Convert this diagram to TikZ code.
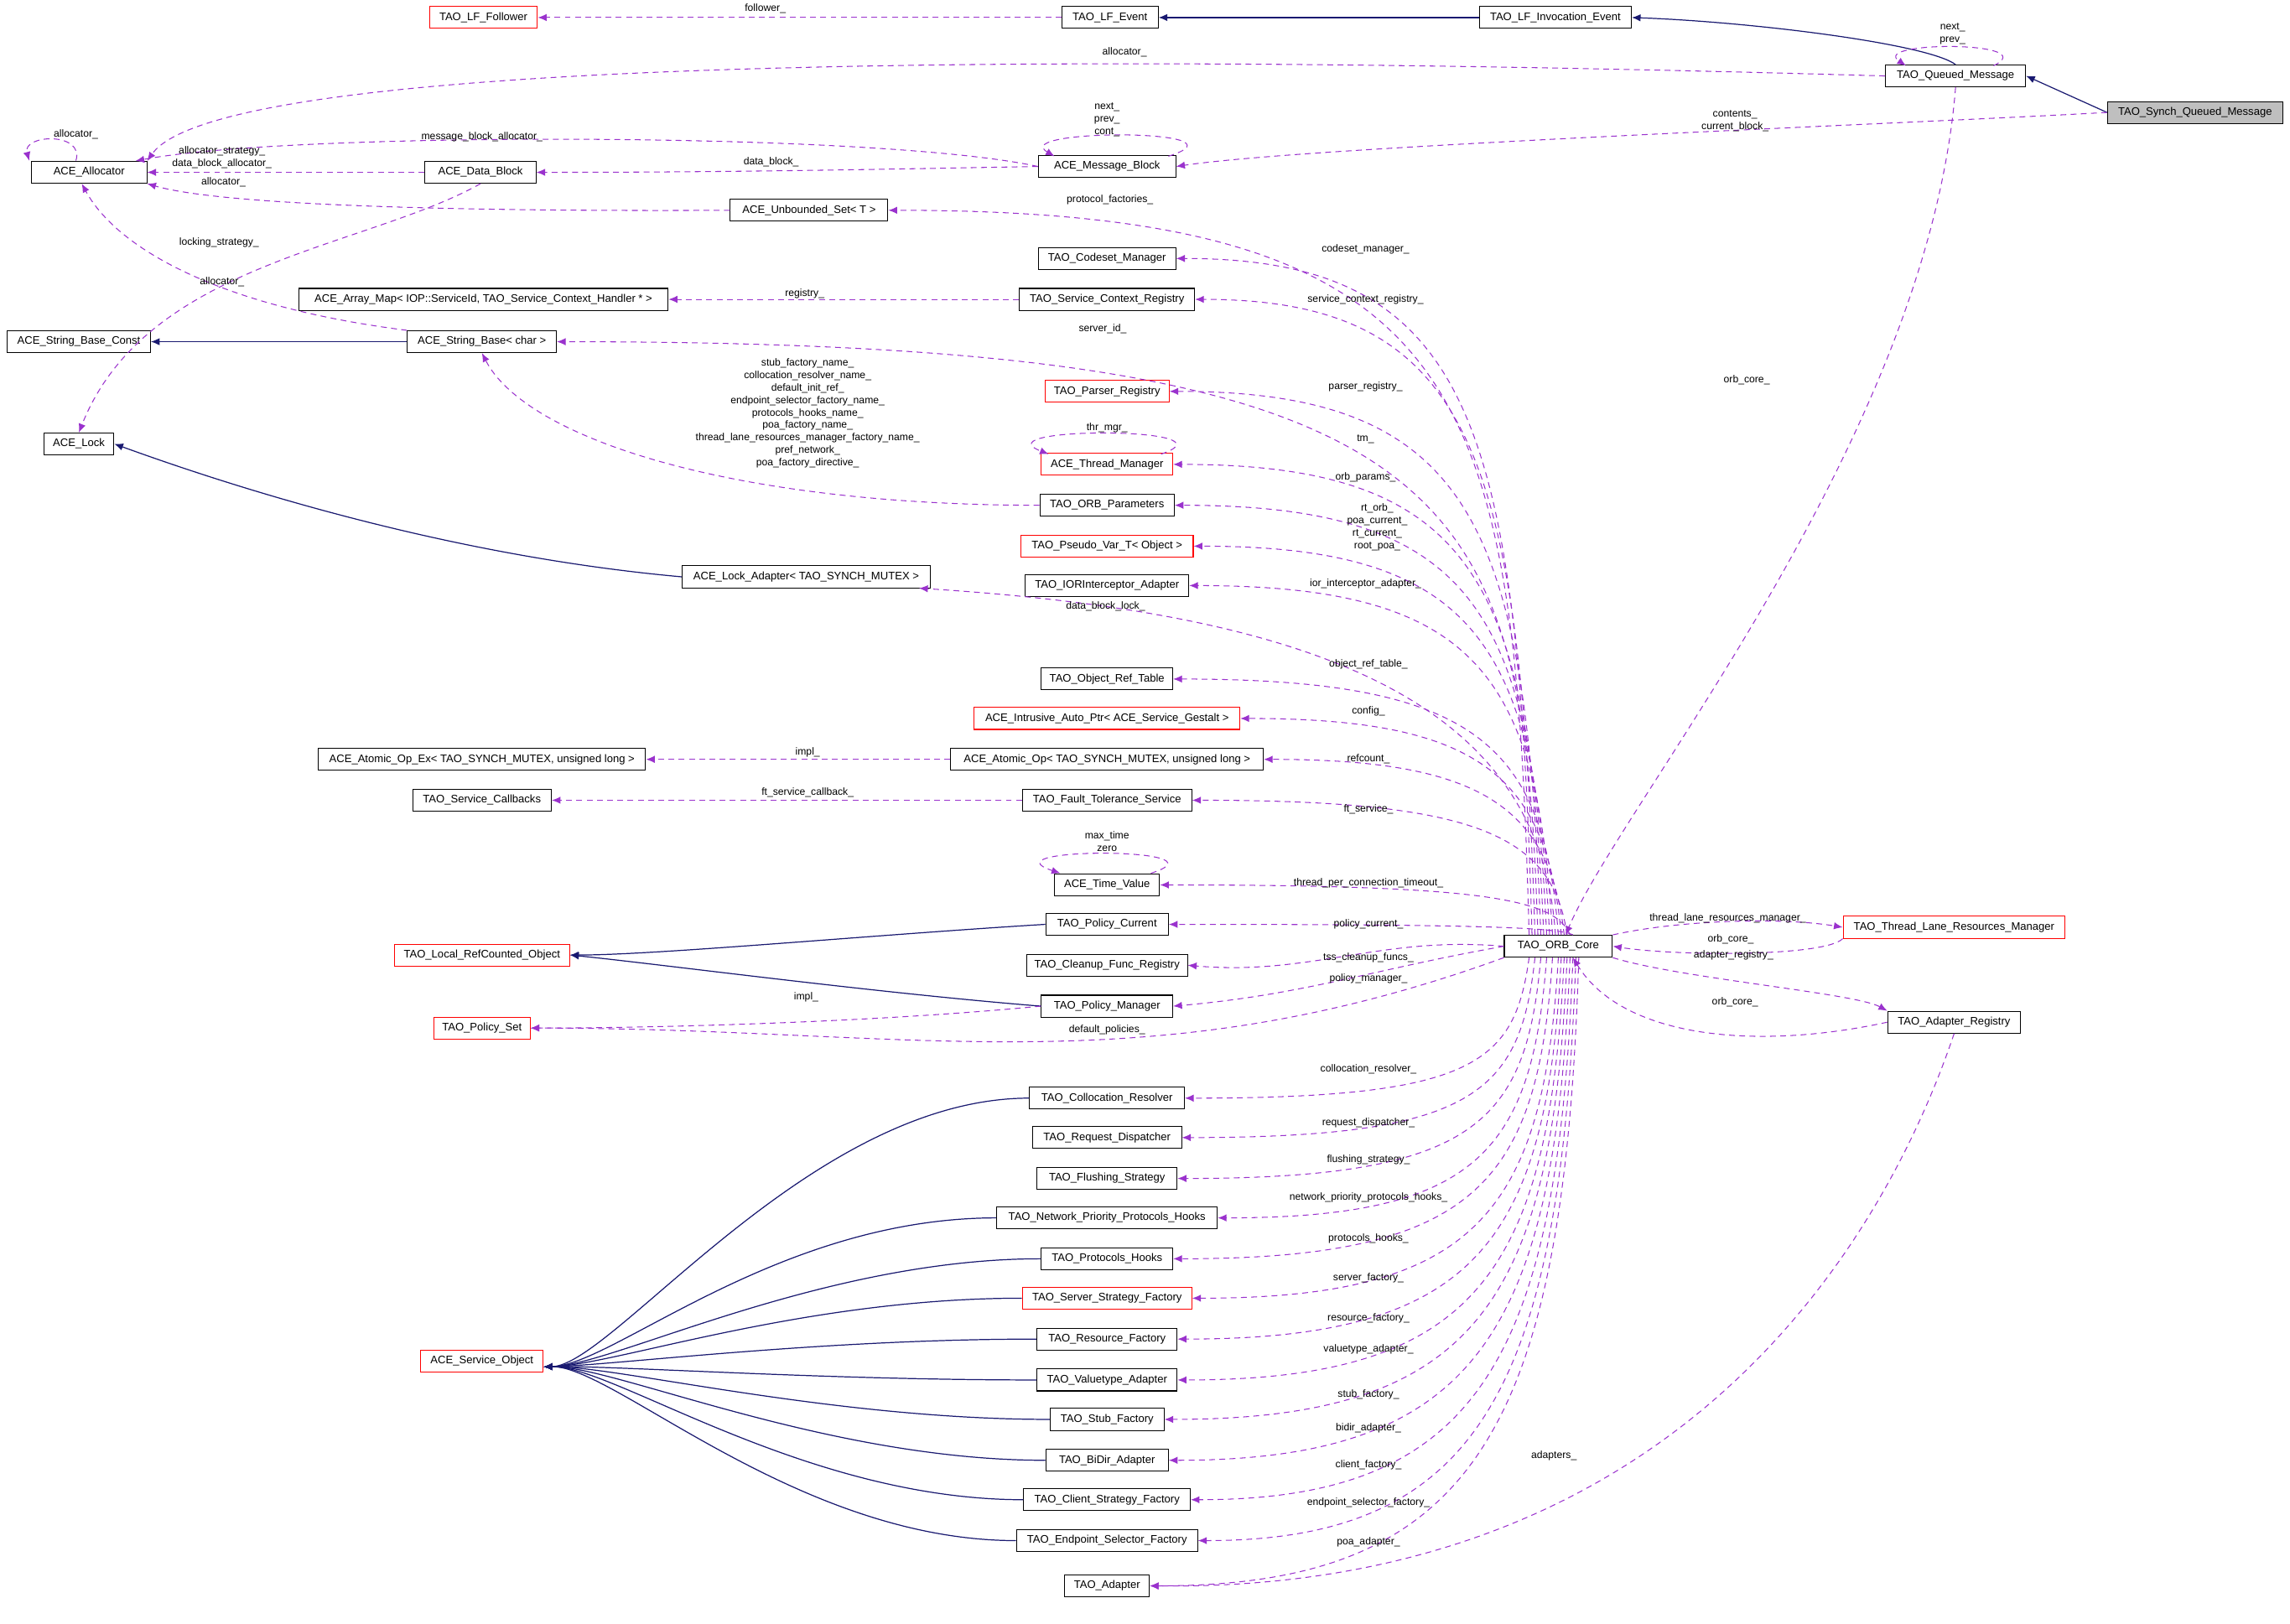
\documentclass[tikz,border=0pt]{standalone}
\usepackage{fontspec}
\setmainfont{Liberation Sans}
\usetikzlibrary{arrows.meta,calc}
\definecolor{memc}{HTML}{9A32CD}
\definecolor{inhc}{HTML}{191970}
\begin{document}
\begin{tikzpicture}[x=1pt,y=1pt,
  box/.style={draw=black,line width=0.6pt,minimum height=15pt,inner sep=0pt,font=\fontsize{7.5}{8}\selectfont,fill=white},
  boxr/.style={box,draw=red},
  mem/.style={draw=memc,dashed,dash pattern=on 4pt off 3pt,line width=0.6pt,-{Latex[length=6pt,width=5pt]}},
  inh/.style={draw=inhc,line width=0.7pt,-{Latex[length=6pt,width=5pt]}},
  lab/.style={font=\fontsize{7}{8.5}\selectfont,align=center,inner sep=0pt}]
\useasboundingbox (0,0) rectangle (1568,-1111.6);
% nodes
\node[boxr,minimum width=74] (lff) at (331,-12) {TAO\_LF\_Follower};
\node[box,minimum width=66] (lfe) at (760,-12) {TAO\_LF\_Event};
\node[box,minimum width=104] (lfi) at (1065,-12) {TAO\_LF\_Invocation\_Event};
\node[box,minimum width=96] (qm) at (1339,-52) {TAO\_Queued\_Message};
\node[box,minimum width=120,fill=black!25] (sqm) at (1503,-77) {TAO\_Synch\_Queued\_Message};
\node[box,minimum width=79] (alloc) at (61,-118) {ACE\_Allocator};
\node[box,minimum width=76] (db) at (329,-118) {ACE\_Data\_Block};
\node[box,minimum width=94] (mb) at (758,-114) {ACE\_Message\_Block};
\node[box,minimum width=108] (us) at (554,-144) {ACE\_Unbounded\_Set< T >};
\node[box,minimum width=94] (csm) at (758,-177) {TAO\_Codeset\_Manager};
\node[box,minimum width=253] (am) at (331,-205) {ACE\_Array\_Map< IOP::ServiceId, TAO\_Service\_Context\_Handler * >};
\node[box,minimum width=120] (scr) at (758,-205) {TAO\_Service\_Context\_Registry};
\node[box,minimum width=98] (sbc) at (54,-234) {ACE\_String\_Base\_Const};
\node[box,minimum width=102] (sb) at (330,-234) {ACE\_String\_Base< char >};
\node[boxr,minimum width=85] (pr) at (758,-268) {TAO\_Parser\_Registry};
\node[box,minimum width=48] (lock) at (54,-304) {ACE\_Lock};
\node[boxr,minimum width=90] (tmg) at (758,-318) {ACE\_Thread\_Manager};
\node[box,minimum width=92] (op) at (758,-346) {TAO\_ORB\_Parameters};
\node[boxr,minimum width=118] (pv) at (758,-374) {TAO\_Pseudo\_Var\_T< Object >};
\node[box,minimum width=112] (ior) at (758,-401) {TAO\_IORInterceptor\_Adapter};
\node[box,minimum width=170] (la) at (552,-395) {ACE\_Lock\_Adapter< TAO\_SYNCH\_MUTEX >};
\node[box,minimum width=90] (ort) at (758,-465) {TAO\_Object\_Ref\_Table};
\node[boxr,minimum width=182] (iap) at (758,-492) {ACE\_Intrusive\_Auto\_Ptr< ACE\_Service\_Gestalt >};
\node[box,minimum width=224] (aoe) at (330,-520) {ACE\_Atomic\_Op\_Ex< TAO\_SYNCH\_MUTEX, unsigned long >};
\node[box,minimum width=214] (ao) at (758,-520) {ACE\_Atomic\_Op< TAO\_SYNCH\_MUTEX, unsigned long >};
\node[box,minimum width=95] (scb) at (330,-548) {TAO\_Service\_Callbacks};
\node[box,minimum width=116] (fts) at (758,-548) {TAO\_Fault\_Tolerance\_Service};
\node[box,minimum width=72] (tv) at (758,-606) {ACE\_Time\_Value};
\node[box,minimum width=84] (pc) at (758,-633) {TAO\_Policy\_Current};
\node[box,minimum width=74] (core) at (1067,-648) {TAO\_ORB\_Core};
\node[boxr,minimum width=152] (tlr) at (1338,-635) {TAO\_Thread\_Lane\_Resources\_Manager};
\node[boxr,minimum width=120] (lrc) at (330,-654) {TAO\_Local\_RefCounted\_Object};
\node[box,minimum width=110] (cfr) at (758,-661) {TAO\_Cleanup\_Func\_Registry};
\node[box,minimum width=90] (pm) at (758,-689) {TAO\_Policy\_Manager};
\node[box,minimum width=91] (ar) at (1338,-700) {TAO\_Adapter\_Registry};
\node[boxr,minimum width=66] (ps) at (330,-704) {TAO\_Policy\_Set};
\node[box,minimum width=106] (cr) at (758,-752) {TAO\_Collocation\_Resolver};
\node[box,minimum width=102] (rd) at (758,-779) {TAO\_Request\_Dispatcher};
\node[box,minimum width=96] (fs) at (758,-807) {TAO\_Flushing\_Strategy};
\node[box,minimum width=151] (npp) at (758,-834) {TAO\_Network\_Priority\_Protocols\_Hooks};
\node[box,minimum width=90] (ph) at (758,-862) {TAO\_Protocols\_Hooks};
\node[boxr,minimum width=116] (ssf) at (758,-889) {TAO\_Server\_Strategy\_Factory};
\node[boxr,minimum width=84] (so) at (330,-932) {ACE\_Service\_Object};
\node[box,minimum width=96] (rf) at (758,-917) {TAO\_Resource\_Factory};
\node[box,minimum width=96] (va) at (758,-945) {TAO\_Valuetype\_Adapter};
\node[box,minimum width=78] (sf) at (758,-972) {TAO\_Stub\_Factory};
\node[box,minimum width=84] (bda) at (758,-1000) {TAO\_BiDir\_Adapter};
\node[box,minimum width=114] (csf) at (758,-1027) {TAO\_Client\_Strategy\_Factory};
\node[box,minimum width=124] (esf) at (758,-1055) {TAO\_Endpoint\_Selector\_Factory};
\node[box,minimum width=58] (ad) at (758,-1086) {TAO\_Adapter};
% inheritance
\draw[inh] (lfi.west) -- (lfe.east);
\draw[inh] (qm.north) .. controls (1320,-30) and (1200,-15) .. (lfi.east);
\draw[inh] (sqm.west) -- (qm.east);
\draw[inh] (sb.west) -- (sbc.east);
\draw[inh] (la.west) .. controls (300,-380) and (150,-330) .. (lock.east);
\draw[inh] (pc.west) .. controls (600,-640) and (450,-654) .. (lrc.east);
\draw[inh] (pm.west) .. controls (600,-680) and (450,-660) .. (lrc.east);
\foreach \n in {cr,npp,ph,ssf,rf,va,sf,bda,csf,esf}
  \draw[inh] (\n.west) .. controls ($(\n.west)+(-150,0)$) and (420,-935) .. ([yshift=-4pt]so.east);
% self loops
\draw[mem] (52,-110) .. controls (58,-90) and (15,-92) .. (20,-110);
\draw[mem] (800,-107) .. controls (860,-88) and (690,-88) .. (722,-107);
\draw[mem] (1365,-45) .. controls (1400,-28) and (1280,-28) .. (1305,-45);
\draw[mem] (795,-311) .. controls (850,-292) and (670,-292) .. (718,-311);
\draw[mem] (788,-598) .. controls (845,-580) and (672,-580) .. (726,-598);
% other members
\draw[mem] (lfe.west) -- (lff.east);
\draw[mem] (qm.west) .. controls (700,-35) and (150,-40) .. (alloc.north east);
\draw[mem] (sqm.west) .. controls (1300,-85) and (900,-100) .. (mb.east);
\draw[mem] (mb.west) .. controls (600,-90) and (200,-90) .. ([xshift=-8pt]alloc.north east);
\draw[mem] (db.west) -- (alloc.east);
\draw[mem] (mb.west) .. controls (600,-116) and (500,-118) .. (db.east);
\draw[mem] (us.west) .. controls (300,-145) and (150,-140) .. (alloc.south east);
\draw[mem] (db.south) .. controls (250,-170) and (100,-180) .. (lock.north);
\draw[mem] (sb.north west) .. controls (150,-210) and (80,-170) .. ([xshift=-5pt]alloc.south);
\draw[mem] (scr.west) -- (am.east);
\draw[mem] (op.west) .. controls (500,-346) and (360,-300) .. (sb.south);
\draw[mem] (ao.west) -- (aoe.east);
\draw[mem] (fts.west) -- (scb.east);
\draw[mem] (pm.west) .. controls (600,-700) and (450,-704) .. (ps.east);
% ORB core members (above)
\foreach \n/\o/\t in {us/-20/-144,csm/-18/-177,scr/-16/-205,sb/-14/-234,pr/-12/-268,tmg/-10/-318,op/-8/-346,pv/-6/-374,ior/-4/-401,ort/0/-465,iap/2/-492,ao/4/-520,fts/6/-548,tv/8/-606,pc/10/-633}
  \draw[mem] ([xshift=\o pt]core.north) .. controls (1057+\o,{-641+0.75*(\t+641)}) and (1010,\t) .. (\n.east);
\draw[mem] ([xshift=-2pt]core.north) .. controls (1055,-480) and (900,-420) .. ([xshift=-8pt]la.south east);
\draw[mem] (core.west) to[out=175,in=-5] (cfr.east);
\draw[mem] (core.west) to[out=190,in=5] (pm.east);
\draw[mem] (core.south west) to[out=200,in=0] (ps.east);
\foreach \n/\o/\t in {cr/-20/-752,rd/-16/-779,fs/-12/-807,npp/-8/-834,ph/-4/-862,ssf/0/-889,rf/2/-917,va/4/-945,sf/6/-972,bda/8/-1000,csf/10/-1027,esf/12/-1055,ad/14/-1086}
  \draw[mem] ([xshift=\o pt]core.south) .. controls (1057+\o,{-656+0.75*(\t+656)}) and (1010,\t) .. (\n.east);
\draw[mem] (qm.south) .. controls (1320,-300) and (1110,-550) .. ([xshift=5pt]core.north);
\draw[mem] (core.north east) .. controls (1150,-630) and (1220,-628) .. (tlr.west);
\draw[mem] (tlr.south west) .. controls (1250,-655) and (1150,-655) .. (core.east);
\draw[mem] (core.south east) .. controls (1150,-670) and (1270,-680) .. (ar.north west);
\draw[mem] (ar.west) .. controls (1200,-720) and (1110,-710) .. ([xshift=10pt]core.south);
\draw[mem] (ar.south) .. controls (1290,-850) and (1150,-1090) .. (ad.east);
% labels
\node[lab] (l1) at (524,-6) {follower\_};
\node[lab] (l2) at (770,-36) {allocator\_};
\node[lab] (l3) at (1337,-23) {next\_\\prev\_};
\node[lab] (l4) at (1188,-83) {contents\_\\current\_block\_};
\node[lab] (l5) at (52,-92) {allocator\_};
\node[lab] (l6) at (330,-94) {message\_block\_allocator\_};
\node[lab] (l7) at (758,-82) {next\_\\prev\_\\cont\_};
\node[lab] (l8) at (152,-108) {allocator\_strategy\_\\data\_block\_allocator\_};
\node[lab] (l9) at (528,-111) {data\_block\_};
\node[lab] (l10) at (153,-125) {allocator\_};
\node[lab] (l11) at (760,-137) {protocol\_factories\_};
\node[lab] (l12) at (150,-166) {locking\_strategy\_};
\node[lab] (l13) at (935,-171) {codeset\_manager\_};
\node[lab] (l14) at (152,-193) {allocator\_};
\node[lab] (l15) at (551,-201) {registry\_};
\node[lab] (l16) at (935,-205) {service\_context\_registry\_};
\node[lab] (l17) at (755,-225) {server\_id\_};
\node[lab] (l18) at (553,-283) {stub\_factory\_name\_\\collocation\_resolver\_name\_\\default\_init\_ref\_\\endpoint\_selector\_factory\_name\_\\protocols\_hooks\_name\_\\poa\_factory\_name\_\\thread\_lane\_resources\_manager\_factory\_name\_\\pref\_network\_\\poa\_factory\_directive\_};
\node[lab] (l19) at (935,-265) {parser\_registry\_};
\node[lab] (l20) at (758,-293) {thr\_mgr\_};
\node[lab] (l21) at (935,-301) {tm\_};
\node[lab] (l22) at (935,-327) {orb\_params\_};
\node[lab] (l23) at (943,-361) {rt\_orb\_\\poa\_current\_\\rt\_current\_\\root\_poa\_};
\node[lab] (l24) at (935,-400) {ior\_interceptor\_adapter\_};
\node[lab] (l25) at (757,-415) {data\_block\_lock\_};
\node[lab] (l26) at (937,-455) {object\_ref\_table\_};
\node[lab] (l27) at (937,-487) {config\_};
\node[lab] (l28) at (553,-515) {impl\_};
\node[lab] (l29) at (937,-520) {refcount\_};
\node[lab] (l30) at (553,-543) {ft\_service\_callback\_};
\node[lab] (l31) at (937,-554) {ft\_service\_};
\node[lab] (l32) at (758,-576) {max\_time\\zero};
\node[lab] (l33) at (937,-605) {thread\_per\_connection\_timeout\_};
\node[lab] (l34) at (937,-633) {policy\_current\_};
\node[lab] (l35) at (937,-656) {tss\_cleanup\_funcs\_};
\node[lab] (l36) at (937,-670) {policy\_manager\_};
\node[lab] (l37) at (552,-683) {impl\_};
\node[lab] (l38) at (758,-705) {default\_policies\_};
\node[lab] (l39) at (937,-732) {collocation\_resolver\_};
\node[lab] (l40) at (937,-769) {request\_dispatcher\_};
\node[lab] (l41) at (937,-794) {flushing\_strategy\_};
\node[lab] (l42) at (937,-820) {network\_priority\_protocols\_hooks\_};
\node[lab] (l43) at (937,-848) {protocols\_hooks\_};
\node[lab] (l44) at (937,-875) {server\_factory\_};
\node[lab] (l45) at (937,-903) {resource\_factory\_};
\node[lab] (l46) at (937,-924) {valuetype\_adapter\_};
\node[lab] (l47) at (937,-955) {stub\_factory\_};
\node[lab] (l48) at (937,-978) {bidir\_adapter\_};
\node[lab] (l49) at (937,-1003) {client\_factory\_};
\node[lab] (l50) at (937,-1029) {endpoint\_selector\_factory\_};
\node[lab] (l51) at (937,-1056) {poa\_adapter\_};
\node[lab] (l52) at (1196,-260) {orb\_core\_};
\node[lab] (l53) at (1183,-629) {thread\_lane\_resources\_manager\_};
\node[lab] (l54) at (1185,-643) {orb\_core\_};
\node[lab] (l55) at (1187,-654) {adapter\_registry\_};
\node[lab] (l56) at (1188,-686) {orb\_core\_};
\node[lab] (l57) at (1064,-997) {adapters\_};
\end{tikzpicture}
\end{document}
